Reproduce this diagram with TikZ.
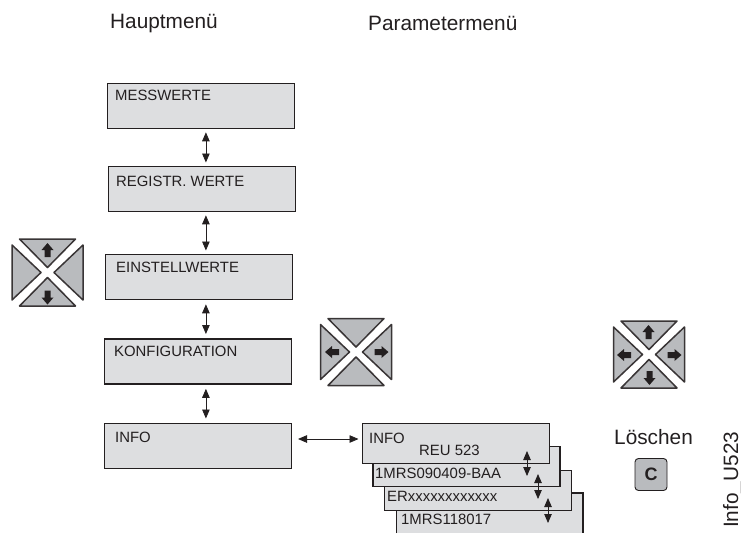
\documentclass[tikz,border=0pt]{standalone}
\usepackage{fontspec}
\setmainfont{Liberation Sans}
\usetikzlibrary{arrows.meta}
\definecolor{boxfill}{HTML}{DDDEE0}
\definecolor{keyfill}{HTML}{B9BBBE}
\definecolor{txt}{HTML}{231F20}
\newcommand{\tsmall}{\fontsize{14.9}{16}\selectfont}
\newcommand{\tbig}{\fontsize{20.8}{23}\selectfont}
\tikzset{
  x=1pt,y=-1pt,
  menubox/.style={draw=txt,fill=boxfill,line width=1.8pt,minimum width=187pt,minimum height=45pt,inner sep=0pt,anchor=north west},
  stackbox/.style={menubox,minimum height=40pt},
  lbl/.style={text=txt,font=\tsmall,inner sep=0pt,anchor=base west},
  head/.style={text=txt,font=\tbig,inner sep=0pt,anchor=base west},
  dbl/.style={draw=txt,line width=0.8pt,{Triangle[length=9pt,width=7.5pt]}-{Triangle[length=9pt,width=7.5pt]}},
  keytri/.style={draw=txt!90,fill=keyfill,line width=1.5pt,line join=round},
  keyarrow/.style={fill=txt,draw=none},
}
\newcommand{\keyup}[2]{\fill[keyarrow] (#1,#2-7)--(#1+6,#2)--(#1+3,#2)--(#1+3,#2+7)--(#1-3,#2+7)--(#1-3,#2)--(#1-6,#2)--cycle;}
\newcommand{\keydown}[2]{\fill[keyarrow] (#1,#2+7)--(#1+6,#2)--(#1+3,#2)--(#1+3,#2-7)--(#1-3,#2-7)--(#1-3,#2)--(#1-6,#2)--cycle;}
\newcommand{\keyleft}[2]{\fill[keyarrow] (#1-7,#2)--(#1,#2+6)--(#1,#2+3)--(#1+7,#2+3)--(#1+7,#2-3)--(#1,#2-3)--(#1,#2-6)--cycle;}
\newcommand{\keyright}[2]{\fill[keyarrow] (#1+7,#2)--(#1,#2+6)--(#1,#2+3)--(#1-7,#2+3)--(#1-7,#2-3)--(#1,#2-3)--(#1,#2-6)--cycle;}
\newcommand{\keypad}[2]{%
  \draw[keytri] (#1-28,#2-33.5)--(#1+28,#2-33.5)--(#1,#2-5)--cycle;
  \draw[keytri] (#1-28,#2+33.5)--(#1+28,#2+33.5)--(#1,#2+5)--cycle;
  \draw[keytri] (#1-35.5,#2-27.5)--(#1-35.5,#2+27.5)--(#1-6.5,#2)--cycle;
  \draw[keytri] (#1+35.5,#2-27.5)--(#1+35.5,#2+27.5)--(#1+6.5,#2)--cycle;}
\begin{document}
\begin{tikzpicture}
\useasboundingbox (0,0) rectangle (741,533);
\node[head] (hm) at (110,28) {Hauptmenü};
\node[head] (pm) at (368,30) {Parametermenü};

\node[menubox] (b1) at (106.5,82.5) {};
\node[menubox] (b2) at (107.5,165.5) {};
\node[menubox] (b3) at (104.5,253.5) {};
\node[menubox] (b4) at (103.5,338) {};
\node[menubox] (b5) at (103.5,422.5) {};
\node[lbl] (t1) at (115,100) {MESSWERTE};
\node[lbl] (t2) at (116,186) {REGISTR. WERTE};
\node[lbl] (t3) at (116,272) {EINSTELLWERTE};
\node[lbl] (t4) at (114,356) {KONFIGURATION};
\node[lbl] (t5) at (115,442) {INFO};

\draw[dbl] ([xshift=5pt,yshift=-3pt]b1.south) -- ([xshift=4pt,yshift=3pt]b2.north);
\draw[dbl] ([xshift=4pt,yshift=-3pt]b2.south) -- ([xshift=7pt,yshift=3pt]b3.north);
\draw[dbl] ([xshift=7pt,yshift=-4pt]b3.south) -- ([xshift=8pt,yshift=4pt]b4.north);
\draw[dbl] ([xshift=8pt,yshift=-4pt]b4.south) -- ([xshift=8pt,yshift=4pt]b5.north);

% stack
\fill[boxfill] (396.5,493) rectangle (583,533);
\draw[draw=txt,line width=1.8pt] (396.5,533)--(396.5,493)--(583,493)--(583,533);
\node[stackbox] (s3) at (383.5,469.5) {};
\node[stackbox] (s2) at (372,445.5) {};
\node[stackbox] (s1) at (361.5,422.5) {};
\node[lbl] (st1) at (369,443) {INFO};
\node[lbl] (st2) at (419,455) {REU 523};
\node[lbl] (st3) at (375,478) {1MRS090409-BAA};
\node[lbl] (st4) at (387,501) {ERxxxxxxxxxxxx};
\node[lbl] (st5) at (401,524) {1MRS118017};
\coordinate (a1) at (527,451);
\coordinate (a2) at (527,476);
\coordinate (m1) at (538,474);
\coordinate (m2) at (538,499);
\coordinate (c1) at (548,498);
\coordinate (c2) at (548,523);
\coordinate (e1) at (298,439);
\draw[dbl] (a1)--(a2);
\draw[dbl] (m1)--(m2);
\draw[dbl] (c1)--(c2);
\draw[dbl] (e1) -- ([xshift=-3pt]s1.west|-e1);

% keypads
\keypad{47.5}{272.5}
\keyup{47.5}{250}
\keydown{47.5}{297.5}
\keypad{356}{352}
\keyleft{332}{352}
\keyright{381.5}{352}
\keypad{649}{354.5}
\keyup{648.5}{332}
\keydown{649.5}{378}
\keyleft{624}{355}
\keyright{674.5}{355}

\node[head] (loe) at (614,444) {Löschen};
\node[draw=txt,fill=keyfill,line width=0.9pt,rounded corners=3.5pt,minimum width=32pt,minimum height=32pt,inner sep=0pt,font=\bfseries\fontsize{18}{20}\selectfont,text=txt] (c) at (651,474.5) {C};
\node[head,rotate=90,anchor=base west] (iu) at (738,528) {Info\_U523};
\end{tikzpicture}
\end{document}
